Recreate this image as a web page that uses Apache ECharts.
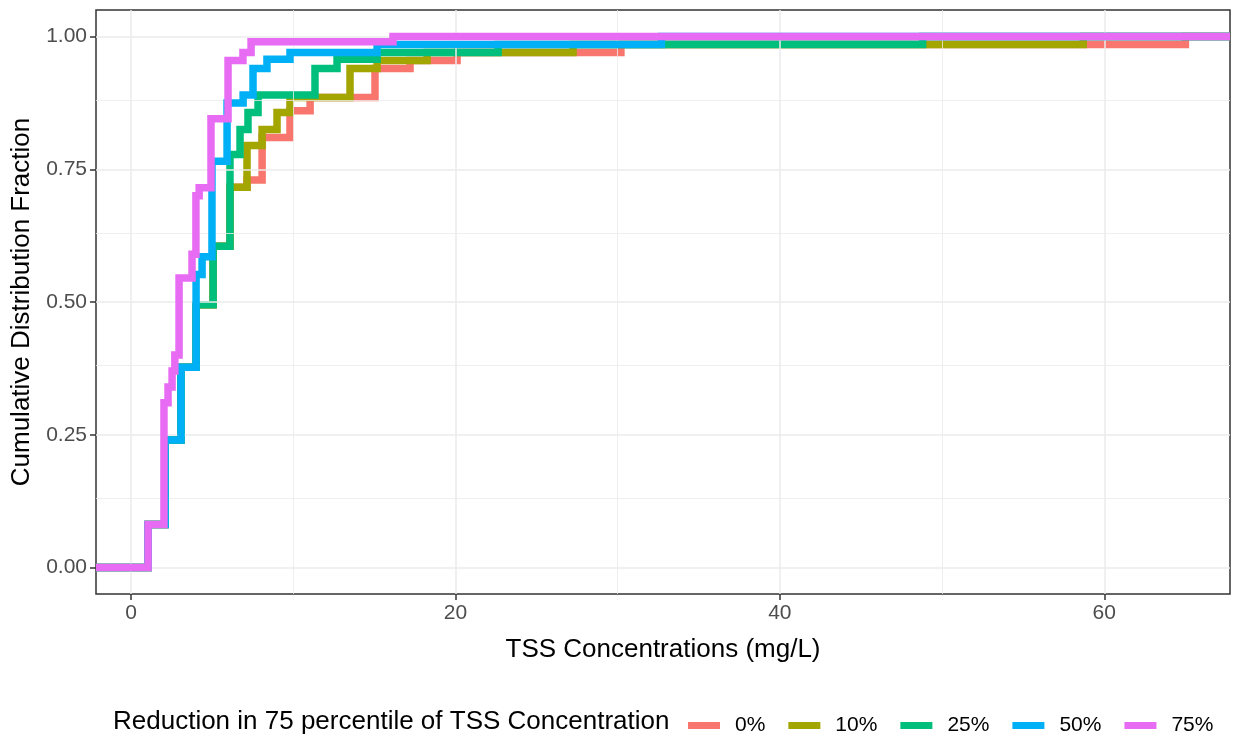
<!DOCTYPE html>
<html>
<head>
<meta charset="utf-8">
<script src="https://cdn.jsdelivr.net/npm/echarts@6/dist/echarts.min.js"></script>
<style>html,body{margin:0;padding:0;background:#fff}#c{width:1233px;height:741px}</style>
</head>
<body>
<div id="c"></div>
<script>
// ---- data (ECDF step positions) ----
const seriesNames = ['0%', '10%', '25%', '50%', '75%'];
const seriesColors = ['#F8766D', '#A3A500', '#00BF7D', '#00B0F6', '#E76BF3'];

const x0 = [1.05, 2.10, 3.08, 4.01, 5.06, 6.10, 7.15, 8.08, 9.80, 11.04, 15.04, 17.20, 20.10, 30.20, 65.00];
const y0 = [0.081, 0.240, 0.377, 0.495, 0.605, 0.716, 0.730, 0.810, 0.860, 0.885, 0.940, 0.955, 0.970, 0.985, 1.000];

const x10 = [1.05, 2.10, 3.08, 4.01, 5.06, 6.10, 7.15, 8.08, 9.00, 9.80, 13.50, 15.17, 18.25, 27.25, 58.70];
const y10 = [0.081, 0.240, 0.377, 0.495, 0.605, 0.716, 0.795, 0.825, 0.857, 0.885, 0.940, 0.955, 0.970, 0.985, 1.000];

const x25 = [1.05, 2.10, 3.08, 4.01, 5.06, 6.10, 6.72, 7.21, 7.83, 11.34, 12.70, 15.17, 22.63, 48.80];
const y25 = [0.081, 0.240, 0.377, 0.495, 0.605, 0.778, 0.825, 0.857, 0.890, 0.940, 0.957, 0.970, 0.985, 1.000];

const x50 = [1.05, 2.10, 3.08, 4.01, 4.38, 4.99, 5.92, 6.91, 7.52, 8.38, 9.80, 15.17, 32.70];
const y50 = [0.081, 0.240, 0.377, 0.552, 0.585, 0.765, 0.875, 0.890, 0.940, 0.957, 0.970, 0.985, 1.000];

const x75 = [1.05, 2.03, 2.28, 2.53, 2.70, 2.96, 3.76, 4.00, 4.20, 4.93, 5.98, 6.90, 7.40, 16.15];
const y75 = [0.081, 0.310, 0.340, 0.370, 0.400, 0.545, 0.590, 0.700, 0.715, 0.845, 0.955, 0.970, 0.990, 1.000];

const xMajor = [0, 20, 40, 60];
const xMinor = [10, 30, 50];
const yMajor = [0, 0.25, 0.5, 0.75, 1];
const yMinor = [0.125, 0.375, 0.625, 0.875];

const xTitle = 'TSS Concentrations (mg/L)';
const yTitle = 'Cumulative Distribution Fraction';
const legendTitle = 'Reduction in 75 percentile of TSS Concentration';

// ---- build ----
const X_MIN = -2.16, X_MAX = 67.75, Y_MIN = -0.05, Y_MAX = 1.05;
const xsAll = [x0, x10, x25, x50, x75];
const ysAll = [y0, y10, y25, y50, y75];

// ECDF padded to the panel edges (-Inf / +Inf in ggplot)
function ecdf(xs, ys) {
  const d = [[X_MIN, 0]];
  for (let i = 0; i < xs.length; i++) d.push([xs[i], ys[i]]);
  d.push([X_MAX, ys[ys.length - 1]]);
  return d;
}

const FONT = 'Liberation Sans, Arial, sans-serif';

const gridLines = [];
xMinor.forEach(v => gridLines.push({ xAxis: v, lineStyle: { color: '#ebebeb', width: 0.8 } }));
yMinor.forEach(v => gridLines.push({ yAxis: v, lineStyle: { color: '#ebebeb', width: 0.8 } }));
xMajor.forEach(v => gridLines.push({ xAxis: v, lineStyle: { color: '#ebebeb', width: 1.5 } }));
yMajor.forEach(v => gridLines.push({ yAxis: v, lineStyle: { color: '#ebebeb', width: 1.5 } }));

const series = [{
  name: '__grid', type: 'line', data: [[X_MIN - 20, Y_MIN - 1]], showSymbol: false, z: 1,
  lineStyle: { opacity: 0 }, silent: true,
  markLine: { silent: true, symbol: 'none', label: { show: false }, animation: false,
    lineStyle: { type: 'solid' }, data: gridLines }
}];
seriesNames.forEach((n, i) => {
  series.push({
    name: n, type: 'line', step: 'end', clip: true, showSymbol: false, z: 2 + i,
    data: ecdf(xsAll[i], ysAll[i]),
    itemStyle: { color: seriesColors[i] },
    lineStyle: { color: seriesColors[i], width: 7.5, join: 'miter', cap: 'butt' },
    emphasis: { disabled: true }
  });
});

const chart = echarts.init(document.getElementById('c'), null, { renderer: 'canvas' });
chart.setOption({
  animation: false,
  backgroundColor: '#ffffff',
  grid: { left: 96, right: 3, top: 10, bottom: 147, show: true, borderColor: '#333333', borderWidth: 1.5, backgroundColor: '#ffffff' },
  xAxis: {
    type: 'value', min: X_MIN, max: X_MAX,
    splitLine: { show: false },
    axisLine: { show: false, onZero: false },
    axisTick: { show: true, customValues: xMajor, length: 6, lineStyle: { color: '#333333', width: 1.5 } },
    axisLabel: { customValues: xMajor, margin: 9, color: '#4d4d4d', fontSize: 21, fontFamily: FONT }
  },
  yAxis: {
    type: 'value', min: Y_MIN, max: Y_MAX,
    splitLine: { show: false },
    axisLine: { show: false, onZero: false },
    axisTick: { show: true, customValues: yMajor, length: 6, lineStyle: { color: '#333333', width: 1.5 } },
    axisLabel: { customValues: yMajor, margin: 9, color: '#4d4d4d', fontSize: 21, fontFamily: FONT,
      formatter: v => Number(v).toFixed(2) }
  },
  legend: {
    data: seriesNames, left: 683, top: 710, orient: 'horizontal',
    icon: 'rect', itemWidth: 32, itemHeight: 7, itemGap: 23,
    textStyle: { fontSize: 21, fontFamily: FONT, color: '#000', padding: [0, 0, 0, 10] },
    selectedMode: false
  },
  graphic: [
    { type: 'text', x: 663, y: 650, style: { text: xTitle, fontSize: 26, fontFamily: FONT, fill: '#000', align: 'center', verticalAlign: 'middle' } },
    { type: 'text', x: 22, y: 302, rotation: Math.PI / 2, style: { text: yTitle, fontSize: 26, fontFamily: FONT, fill: '#000', align: 'center', verticalAlign: 'middle' } },
    { type: 'text', x: 113, y: 722, style: { text: legendTitle, fontSize: 26, fontFamily: FONT, fill: '#000', align: 'left', verticalAlign: 'middle' } }
  ],
  series: series
});
</script>
</body>
</html>
